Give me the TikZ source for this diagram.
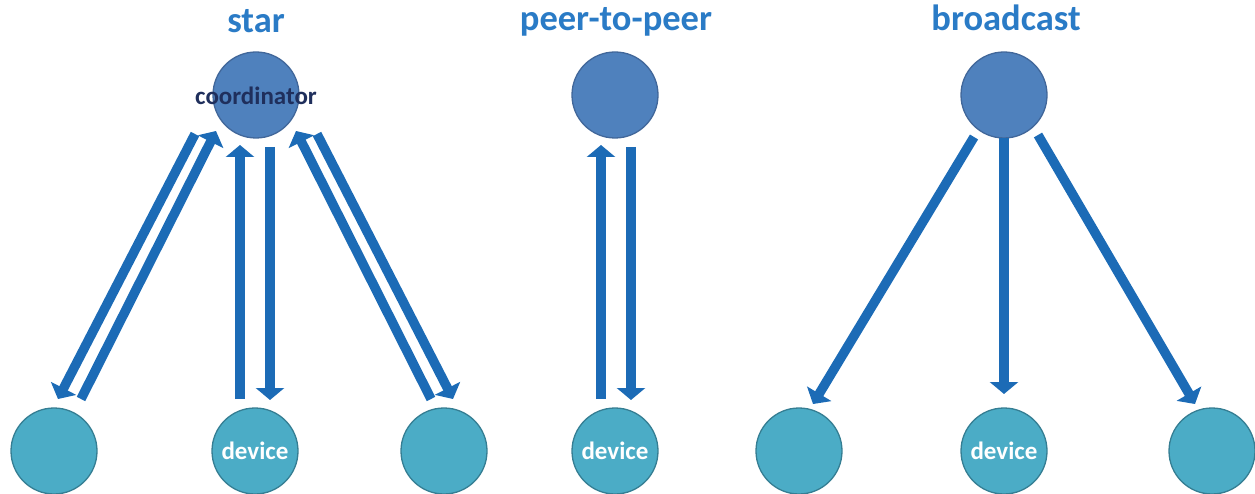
\documentclass[tikz,border=0pt]{standalone}
\usepackage{fontspec}
\setmainfont{Carlito}
\usetikzlibrary{arrows.meta}
\definecolor{topfill}{HTML}{4F81BD}
\definecolor{topdraw}{HTML}{41679A}
\definecolor{botfill}{HTML}{4BACC6}
\definecolor{botdraw}{HTML}{357E93}
\definecolor{arrowc}{HTML}{1C6BB6}
\definecolor{titlec}{HTML}{2A7BC6}
\definecolor{navy}{HTML}{1F2F5C}
\tikzset{
  topnode/.style={circle, minimum size=86pt, inner sep=0pt, fill=topfill, draw=topdraw, line width=1.3pt},
  botnode/.style={circle, minimum size=86pt, inner sep=0pt, fill=botfill, draw=botdraw, line width=1.3pt},
  ttl/.style={text=titlec, font=\fontsize{36.5}{40}\selectfont\bfseries, anchor=base},
  lbl/.style={font=\fontsize{25}{28}\selectfont\bfseries},
  blk/.style={draw=arrowc, line width=9.5pt, -{Triangle[width=28pt,length=12pt]}}
}
\begin{document}
\begin{tikzpicture}[x=1pt,y=-1pt]
\path[use as bounding box] (0,0) rectangle (1255,494);
% titles
\node[ttl] (t1) at (256,33) {star};
\node[ttl] (t2) at (616,31) {peer-to-peer};
\node[ttl] (t3) at (1006,31) {broadcast};
% star
\node[topnode] (sc) at (256,95) {};
\node[botnode] (sl) at (54,451) {};
\node[botnode, lbl, text=white] (sm) at (255,451) {device};
\node[botnode] (sr) at (444,451) {};
\node[lbl, text=navy] (scl) at (256,96) {coordinator};
% p2p
\node[topnode] (pc) at (615,95) {};
\node[botnode, lbl, text=white] (pd) at (615,451) {device};
% broadcast
\node[topnode] (bc) at (1004,95) {};
\node[botnode] (bl) at (799,451) {};
\node[botnode, lbl, text=white] (bm) at (1004,451) {device};
\node[botnode] (br) at (1212,451) {};
% arrow endpoints
\coordinate (a1s) at (195,134);  \coordinate (a1e) at (58,399);
\coordinate (a2s) at (81,399);   \coordinate (a2e) at (216,131);
\coordinate (a3s) at (240,399);  \coordinate (a3e) at (240,145);
\coordinate (a4s) at (270,147);  \coordinate (a4e) at (270,400);
\coordinate (a5s) at (431,399);  \coordinate (a5e) at (296,131);
\coordinate (a6s) at (317,134);  \coordinate (a6e) at (453,399);
\coordinate (p1s) at (601,399);  \coordinate (p1e) at (601,145);
\coordinate (p2s) at (631,147);  \coordinate (p2e) at (631,400);
\coordinate (b1s) at (974,137);  \coordinate (b1e) at (813,404);
\coordinate (b2s) at (1004,138); \coordinate (b2e) at (1004,394);
\coordinate (b3s) at (1038,135); \coordinate (b3e) at (1195,404);
\foreach \s/\e in {a1s/a1e,a2s/a2e,a3s/a3e,a4s/a4e,a5s/a5e,a6s/a6e,p1s/p1e,p2s/p2e,b1s/b1e,b2s/b2e,b3s/b3e}
  \draw[blk] (\s) -- (\e);
\end{tikzpicture}
\end{document}
